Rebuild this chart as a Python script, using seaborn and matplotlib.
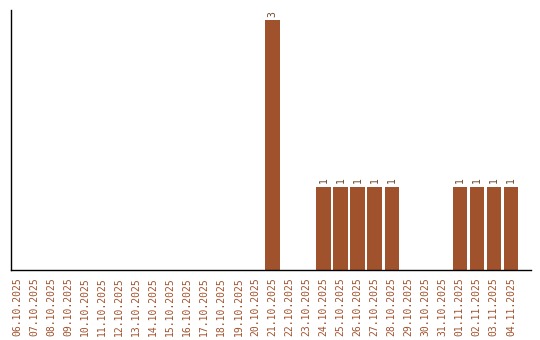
import matplotlib
matplotlib.use("Agg")
import matplotlib.pyplot as plt
import seaborn as sns
import pandas as pd

dates = ["06.10.2025", "07.10.2025", "08.10.2025", "09.10.2025", "10.10.2025",
         "11.10.2025", "12.10.2025", "13.10.2025", "14.10.2025", "15.10.2025",
         "16.10.2025", "17.10.2025", "18.10.2025", "19.10.2025", "20.10.2025",
         "21.10.2025", "22.10.2025", "23.10.2025", "24.10.2025", "25.10.2025",
         "26.10.2025", "27.10.2025", "28.10.2025", "29.10.2025", "30.10.2025",
         "31.10.2025", "01.11.2025", "02.11.2025", "03.11.2025", "04.11.2025"]
counts = [0, 0, 0, 0, 0, 0, 0, 0, 0, 0,
          0, 0, 0, 0, 0, 3, 0, 0, 1, 1,
          1, 1, 1, 0, 0, 0, 1, 1, 1, 1]

df = pd.DataFrame({"date": dates, "count": counts})

sns.set_style("white")
plt.rcParams["font.family"] = ["DejaVu Sans Mono", "DejaVu Sans"]

bar_color = "#A0522D"
text_color = "#A0522D"

fig = plt.figure(figsize=(5.4, 3.4), dpi=100)
ax = fig.add_axes([11 / 540, 70 / 340, 520 / 540, 260 / 340])

sns.barplot(data=df, x="date", y="count", color=bar_color, saturation=1,
            width=0.84, linewidth=0, edgecolor="none", ax=ax)

for i, v in enumerate(counts):
    if v > 0:
        ax.text(i, v + 0.04, str(v), rotation=90, ha="center", va="bottom",
                fontsize=7, color="#6B4A2E")

ax.set_xlim(-0.35, 30.18)
ax.set_ylim(0, 3.12)
ax.set_xlabel("")
ax.set_ylabel("")
ax.set_yticks([])
ax.tick_params(axis="x", labelrotation=90, labelsize=7, labelcolor=text_color,
               length=0, pad=5)
for lbl in ax.get_xticklabels():
    lbl.set_color(text_color)
sns.despine(ax=ax, top=True, right=True)
for s in ["left", "bottom"]:
    ax.spines[s].set_color("black")
    ax.spines[s].set_linewidth(1)

fig.savefig("out.png", dpi=100)
